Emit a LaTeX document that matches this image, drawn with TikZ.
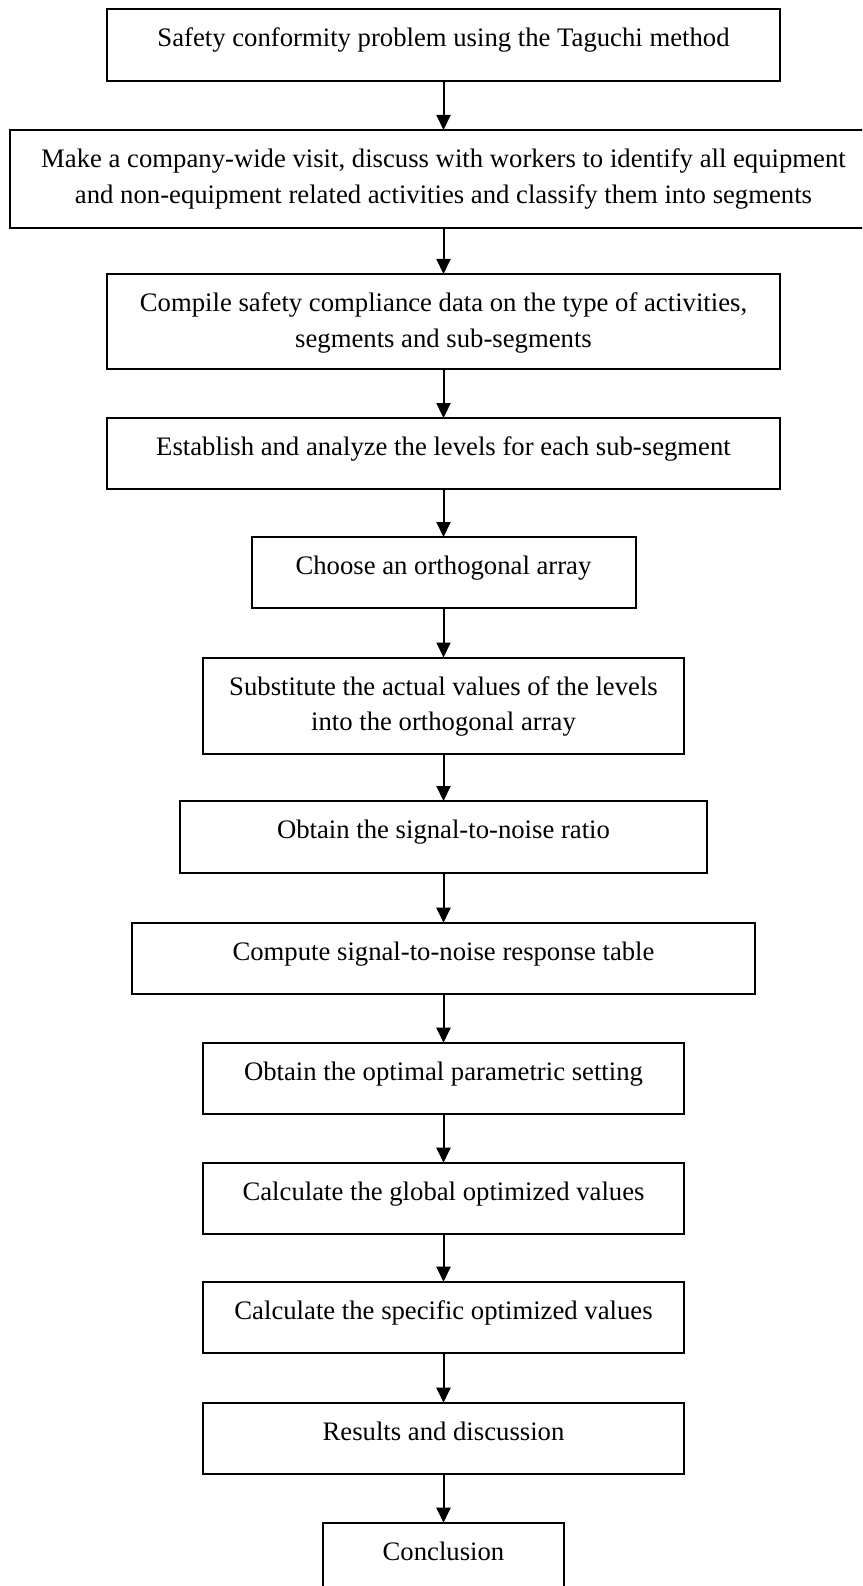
\documentclass[tikz,border=0pt]{standalone}
\usepackage{fontspec}
\setmainfont{Liberation Serif}
\usetikzlibrary{arrows.meta,calc}
\newcommand\tstrut{\rule[-9pt]{0pt}{35pt}}
\begin{document}
\begin{tikzpicture}[x=1pt,y=1pt,
  box/.style={draw, line width=2pt, inner sep=0pt, outer sep=0pt, rectangle},
  lbl/.style={anchor=north, inner sep=0pt, align=center, font=\fontsize{26.7}{35.5}\selectfont},
  flow/.style={line width=2pt, -{Triangle[length=15pt,width=14pt]}}]
\clip (0,0) rectangle (862,-1586);
\fill[white] (0,0) rectangle (862,-1586);
% boxes
\node[box, minimum width=673.6, minimum height=71.7] (b1) at (443.5,-45.15) {};
\node[box, minimum width=867, minimum height=98] (b2) at (443.5,-179) {};
\node[box, minimum width=673.6, minimum height=95] (b3) at (443.5,-321.5) {};
\node[box, minimum width=673.6, minimum height=71.3] (b4) at (443.5,-453.7) {};
\node[box, minimum width=384, minimum height=71] (b5) at (443.5,-572.5) {};
\node[box, minimum width=480.6, minimum height=96.5] (b6) at (443.5,-705.75) {};
\node[box, minimum width=526.6, minimum height=71.5] (b7) at (443.5,-836.75) {};
\node[box, minimum width=623, minimum height=71.3] (b8) at (443.5,-958.35) {};
\node[box, minimum width=480.6, minimum height=71.3] (b9) at (443.5,-1078.35) {};
\node[box, minimum width=480.6, minimum height=71.3] (b10) at (443.5,-1198.35) {};
\node[box, minimum width=480.6, minimum height=71] (b11) at (443.5,-1317.2) {};
\node[box, minimum width=480.6, minimum height=71.3] (b12) at (443.5,-1438.35) {};
\node[box, minimum width=241, minimum height=100] (b13) at (443.5,-1572.7) {};
% labels
\node[lbl] (t1) at ($(b1.north)+(0,-11.5)$) {\tstrut Safety conformity problem using the Taguchi method};
\node[lbl] (t2) at ($(b2.north)+(0,-11.5)$) {\tstrut Make a company-wide visit, discuss with workers to identify all equipment\\and non-equipment related activities and classify them into segments};
\node[lbl] (t3) at ($(b3.north)+(0,-11.5)$) {\tstrut Compile safety compliance data on the type of activities,\\segments and sub-segments};
\node[lbl] (t4) at ($(b4.north)+(0,-11.5)$) {\tstrut Establish and analyze the levels for each sub-segment};
\node[lbl] (t5) at ($(b5.north)+(0,-11.5)$) {\tstrut Choose an orthogonal array};
\node[lbl] (t6) at ($(b6.north)+(0,-11.5)$) {\tstrut Substitute the actual values of the levels\\into the orthogonal array};
\node[lbl] (t7) at ($(b7.north)+(0,-11.5)$) {\tstrut Obtain the signal-to-noise ratio};
\node[lbl] (t8) at ($(b8.north)+(0,-11.5)$) {\tstrut Compute signal-to-noise response table};
\node[lbl] (t9) at ($(b9.north)+(0,-11.5)$) {\tstrut Obtain the optimal parametric setting};
\node[lbl] (t10) at ($(b10.north)+(0,-11.5)$) {\tstrut Calculate the global optimized values};
\node[lbl] (t11) at ($(b11.north)+(0,-11.5)$) {\tstrut Calculate the specific optimized values};
\node[lbl] (t12) at ($(b12.north)+(0,-11.5)$) {\tstrut Results and discussion};
\node[lbl] (t13) at ($(b13.north)+(0,-11.5)$) {\tstrut Conclusion};
% connectors
\foreach \a/\b in {b1/b2,b2/b3,b3/b4,b4/b5,b5/b6,b6/b7,b7/b8,b8/b9,b9/b10,b10/b11,b11/b12,b12/b13}
  \draw[flow] (\a.south) -- (\b.north);
\end{tikzpicture}
\end{document}
